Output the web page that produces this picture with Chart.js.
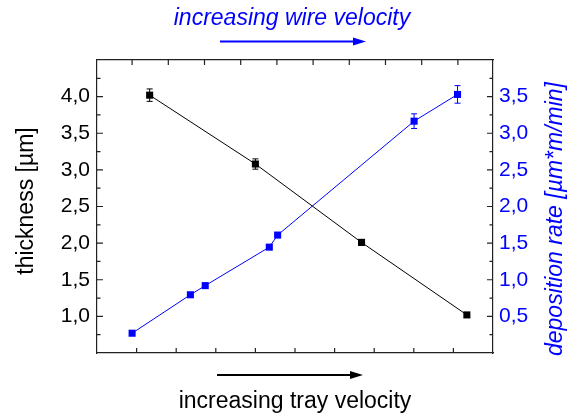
<!DOCTYPE html>
<html>
<head>
<meta charset="utf-8">
<script src="https://cdn.jsdelivr.net/npm/chart.js@4"></script>
<style>
    html, body { margin: 0; padding: 0; background: #fff; }
</style>
</head>
<body>
<canvas id="myChart" width="574" height="416"></canvas>
<script>

// black series: thickness vs tray velocity (bottom / left axes)
var trayX = [1.33, 4.0, 6.68, 9.34];
var thickness = [4.02, 3.08, 2.01, 1.02];
var thicknessErr = [0.085, 0.07, 0.04, 0.0];

// blue series: deposition rate vs wire velocity (top / right axes)
var wireX = [0.0, 1.61, 2.02, 3.79, 4.02, 7.79, 8.99];
var depRate = [0.27, 0.795, 0.92, 1.445, 1.61, 3.165, 3.53];
var depErr = [0, 0, 0, 0, 0, 0.1, 0.12];

// tick labels
var leftLabels = [1.0, 1.5, 2.0, 2.5, 3.0, 3.5, 4.0];
var rightLabels = [0.5, 1.0, 1.5, 2.0, 2.5, 3.0, 3.5];
var bottomTicks = [1, 2, 3, 4, 5, 6, 7, 8, 9];
var topTicks = [0, 1, 2, 3, 4, 5, 6, 7, 8, 9];

var FONT = '"Liberation Sans", Arial, sans-serif';
var BLUE = '#0000ff';

function comma(v) {
    return Number(v).toFixed(1).replace('.', ',');
}

function toPoints(xs, ys) {
    return xs.map(function (x, i) { return { x: x, y: ys[i] }; });
}

// inward ticks, error bars, titles and arrows
var extras = {
    id: 'extras',
    afterDatasetsDraw: function (chart) {
        var ctx = chart.ctx;
        var s = chart.scales;
        ctx.save();
        ctx.lineWidth = 1;

        function errBars(xs, ys, es, xs_, ys_, color) {
            ctx.strokeStyle = color;
            xs.forEach(function (x, i) {
                if (!es[i]) return;
                var px = xs_.getPixelForValue(x);
                var top = ys_.getPixelForValue(ys[i] + es[i]);
                var bot = ys_.getPixelForValue(ys[i] - es[i]);
                ctx.beginPath();
                ctx.moveTo(px, top); ctx.lineTo(px, bot);
                ctx.moveTo(px - 3, top); ctx.lineTo(px + 3, top);
                ctx.moveTo(px - 3, bot); ctx.lineTo(px + 3, bot);
                ctx.stroke();
            });
        }
        errBars(trayX, thickness, thicknessErr, s.x, s.y, '#000');
        errBars(wireX, depRate, depErr, s.x2, s.y2, BLUE);
        ctx.restore();
    },
    afterDraw: function (chart) {
        var ctx = chart.ctx;
        var a = chart.chartArea;
        var s = chart.scales;
        ctx.save();
        ctx.strokeStyle = '#222';
        ctx.lineWidth = 1.2;

        // y ticks (major + minor), drawn inside the frame
        ctx.beginPath();
        leftLabels.forEach(function (v) {
            var py = s.y.getPixelForValue(v);
            ctx.moveTo(a.left, py); ctx.lineTo(a.left + 6, py);
            [v - 0.25, v + 0.25].forEach(function (m) {
                var pm = s.y.getPixelForValue(m);
                ctx.moveTo(a.left, pm); ctx.lineTo(a.left + 3.5, pm);
            });
        });
        rightLabels.forEach(function (v) {
            var py = s.y2.getPixelForValue(v);
            ctx.moveTo(a.right, py); ctx.lineTo(a.right - 6, py);
            [v - 0.25, v + 0.25].forEach(function (m) {
                var pm = s.y2.getPixelForValue(m);
                ctx.moveTo(a.right, pm); ctx.lineTo(a.right - 3.5, pm);
            });
        });
        bottomTicks.forEach(function (v) {
            var px = s.x.getPixelForValue(v);
            ctx.moveTo(px, a.bottom); ctx.lineTo(px, a.bottom - 5);
        });
        topTicks.forEach(function (v) {
            var px = s.x2.getPixelForValue(v);
            ctx.moveTo(px, a.top); ctx.lineTo(px, a.top + 5);
        });
        ctx.stroke();

        // axis titles
        ctx.fillStyle = '#000';
        ctx.font = '23px ' + FONT;
        ctx.textAlign = 'center';
        ctx.textBaseline = 'middle';
        ctx.save();
        ctx.translate(27, 201);
        ctx.rotate(-Math.PI / 2);
        ctx.fillText('thickness [µm]', 0, 0);
        ctx.restore();

        ctx.fillStyle = BLUE;
        ctx.font = 'italic 23px ' + FONT;
        ctx.save();
        ctx.translate(556, 219);
        ctx.rotate(-Math.PI / 2);
        ctx.fillText('deposition rate [µm*m/min]', 0, 0);
        ctx.restore();

        // top / bottom captions
        ctx.textBaseline = 'alphabetic';
        ctx.fillText('increasing wire velocity', 292, 25);
        ctx.fillStyle = '#000';
        ctx.font = '23px ' + FONT;
        ctx.fillText('increasing tray velocity', 295, 408);

        function arrow(x0, x1, y, color) {
            ctx.strokeStyle = color;
            ctx.fillStyle = color;
            ctx.lineWidth = 2;
            ctx.beginPath();
            ctx.moveTo(x0, y); ctx.lineTo(x1 - 10, y);
            ctx.stroke();
            ctx.beginPath();
            ctx.moveTo(x1, y);
            ctx.lineTo(x1 - 13, y - 4);
            ctx.lineTo(x1 - 13, y + 4);
            ctx.closePath();
            ctx.fill();
        }
        arrow(220, 366, 41.5, BLUE);
        arrow(217, 363, 375, '#000');

        ctx.restore();
    }
};

var chartArea = document.getElementById('myChart').getContext('2d');

var frame = { display: true, color: '#222', width: 1.2 };

var myChart = new Chart(chartArea, {
    type: 'scatter',
    data: {
        datasets: [{
            label: 'thickness',
            data: toPoints(trayX, thickness),
            xAxisID: 'x',
            yAxisID: 'y',
            showLine: true,
            borderColor: '#000',
            backgroundColor: '#000',
            borderWidth: 1,
            pointStyle: 'rect',
            pointRadius: 5,
            pointBorderWidth: 0
        }, {
            label: 'deposition rate',
            data: toPoints(wireX, depRate),
            xAxisID: 'x2',
            yAxisID: 'y2',
            showLine: true,
            borderColor: BLUE,
            backgroundColor: BLUE,
            borderWidth: 1,
            pointStyle: 'rect',
            pointRadius: 5,
            pointBorderWidth: 0
        }]
    },
    options: {
        responsive: false,
        animation: false,
        layout: { padding: 0 },
        plugins: {
            legend: { display: false },
            tooltip: { enabled: false }
        },
        scales: {
            x: {
                type: 'linear',
                position: 'bottom',
                min: 0,
                max: 10,
                ticks: { display: false },
                grid: { display: false, drawTicks: false },
                border: frame,
                afterFit: function (sc) { sc.height = 63; }
            },
            x2: {
                type: 'linear',
                position: 'top',
                min: -0.97,
                max: 9.97,
                ticks: { display: false },
                grid: { display: false, drawTicks: false },
                border: frame,
                afterFit: function (sc) { sc.height = 60; }
            },
            y: {
                type: 'linear',
                position: 'left',
                min: 0.5,
                max: 4.5,
                afterBuildTicks: function (sc) {
                    sc.ticks = leftLabels.map(function (v) { return { value: v }; });
                },
                ticks: {
                    autoSkip: false,
                    padding: 7,
                    color: '#000',
                    font: { family: FONT, size: 21 },
                    callback: comma
                },
                grid: { display: false, drawTicks: false },
                border: frame,
                afterFit: function (sc) { sc.width = 97; }
            },
            y2: {
                type: 'linear',
                position: 'right',
                min: 0,
                max: 4,
                afterBuildTicks: function (sc) {
                    sc.ticks = rightLabels.map(function (v) { return { value: v }; });
                },
                ticks: {
                    autoSkip: false,
                    padding: 6,
                    color: BLUE,
                    font: { family: FONT, size: 21 },
                    callback: comma
                },
                grid: { display: false, drawTicks: false },
                border: frame,
                afterFit: function (sc) { sc.width = 81; }
            }
        }
    },
    plugins: [extras]
});

</script>
</body>
</html>
